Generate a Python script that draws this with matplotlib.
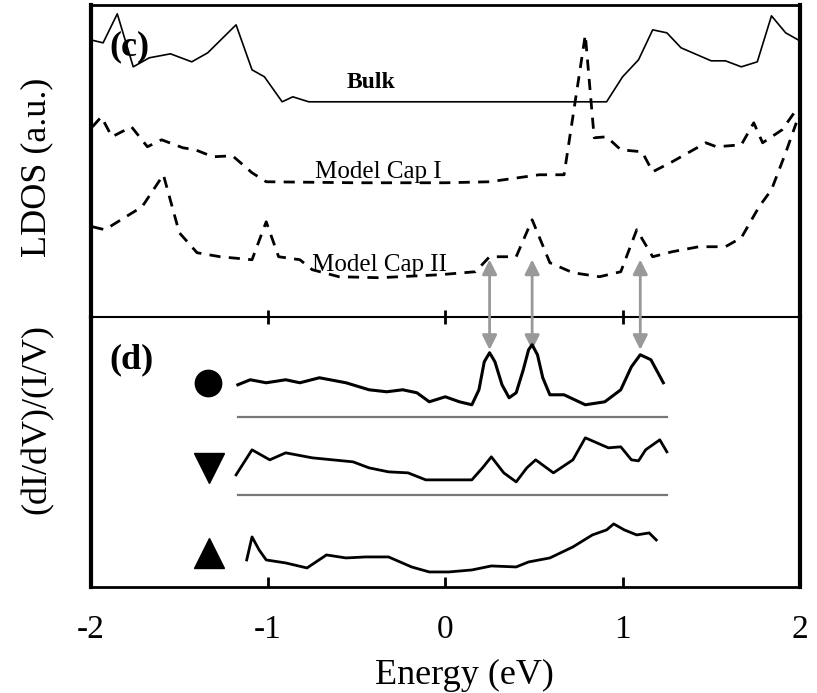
import matplotlib
matplotlib.use('Agg')
import matplotlib.pyplot as plt

plt.rcParams['font.family'] = 'Liberation Serif'

# ---------------- data (c) LDOS, arbitrary units ----------------
bulk_E = [-2.0, -1.93, -1.85, -1.76, -1.67, -1.55, -1.43, -1.34, -1.18, -1.09, -1.02, -0.92, -0.86, -0.77,
          0.91, 1.0, 1.09, 1.17, 1.25, 1.33, 1.50, 1.58, 1.67, 1.76, 1.84, 1.92, 2.0]
bulk_v = [27.7, 27.4, 30.3, 25.0, 25.9, 26.3, 25.5, 26.4, 29.2, 24.7, 24.0, 21.5, 22.0, 21.5,
          21.5, 24.0, 25.7, 28.7, 28.4, 26.9, 25.6, 25.6, 25.0, 25.5, 30.1, 28.4, 27.6]

cap1_E = [-1.99, -1.94, -1.88, -1.77, -1.68, -1.60, -1.48, -1.41, -1.31, -1.20, -1.09, -1.01, -0.5, 0.0,
          0.25, 0.53, 0.67, 0.79, 0.84, 0.91, 0.99, 1.11, 1.17, 1.28, 1.47, 1.53, 1.67, 1.74, 1.79, 1.90, 1.98]
cap1_v = [19.0, 20.0, 18.0, 19.0, 17.0, 17.7, 16.9, 16.7, 16.0, 16.1, 14.4, 13.5, 13.4, 13.4,
          13.5, 14.2, 14.2, 28.2, 17.9, 18.0, 16.7, 16.5, 14.5, 15.5, 17.4, 17.0, 17.2, 19.4, 17.4, 18.7, 20.7]

cap2_E = [-1.99, -1.92, -1.71, -1.59, -1.50, -1.40, -1.27, -1.09, -1.01, -0.94, -0.82, -0.75, -0.60, -0.37,
          -0.03, 0.17, 0.25, 0.40, 0.49, 0.59, 0.72, 0.87, 0.99, 1.08, 1.17, 1.28, 1.43, 1.58, 1.67, 1.77,
          1.84, 1.92, 1.98]
cap2_v = [9.0, 8.7, 11.0, 14.2, 8.4, 6.4, 6.0, 5.7, 9.5, 6.0, 5.7, 4.7, 4.0, 3.9,
          4.2, 4.5, 6.0, 6.0, 9.7, 5.4, 4.4, 4.0, 4.5, 8.7, 6.0, 6.5, 7.0, 7.0, 7.9, 11.0,
          12.7, 16.4, 19.4]

# ---------------- data (d) normalized conductance ----------------
circ_E = [-1.17, -1.10, -1.01, -0.90, -0.82, -0.71, -0.56, -0.43, -0.33, -0.24, -0.16, -0.09, 0.0, 0.08,
          0.15, 0.19, 0.22, 0.25, 0.28, 0.32, 0.36, 0.40, 0.44, 0.47, 0.49, 0.52, 0.55, 0.59, 0.67, 0.79,
          0.90, 0.99, 1.05, 1.10, 1.16, 1.23]
circ_v = [20.2, 20.7, 20.4, 20.7, 20.4, 20.9, 20.4, 19.7, 19.5, 19.7, 19.4, 18.5, 19.0, 18.5,
          18.2, 19.7, 22.5, 23.4, 22.5, 20.2, 18.9, 19.4, 21.7, 23.7, 24.2, 23.2, 20.9, 19.2, 19.2, 18.2,
          18.5, 19.7, 22.0, 23.2, 22.7, 20.4]

down_E = [-1.18, -1.09, -0.99, -0.90, -0.75, -0.52, -0.43, -0.32, -0.21, -0.11, 0.0, 0.15, 0.21, 0.26,
          0.33, 0.40, 0.46, 0.51, 0.61, 0.72, 0.79, 0.92, 0.99, 1.05, 1.09, 1.13, 1.21, 1.25]
down_v = [11.2, 13.7, 12.7, 13.4, 12.9, 12.5, 11.9, 11.5, 11.4, 10.7, 10.7, 10.7, 11.9, 13.0,
          11.4, 10.5, 11.9, 12.7, 11.4, 12.7, 14.9, 13.9, 14.0, 12.7, 12.6, 13.7, 14.7, 13.5]

up_E = [-1.12, -1.09, -1.05, -1.01, -0.90, -0.78, -0.67, -0.56, -0.45, -0.32, -0.19, -0.09, 0.02, 0.15,
        0.26, 0.40, 0.47, 0.59, 0.72, 0.83, 0.91, 0.95, 1.01, 1.08, 1.15, 1.19]
up_v = [2.7, 5.0, 3.7, 2.7, 2.4, 1.9, 3.2, 2.9, 3.0, 3.0, 2.0, 1.5, 1.5, 1.7,
        2.1, 2.0, 2.5, 2.9, 4.0, 5.2, 5.7, 6.3, 5.7, 5.2, 5.4, 4.7]

base_E = [-1.17, 1.25]
base_lev = [17.0, 9.2]

arrow_E = [0.25, 0.49, 1.10]

# ################# PLOTS ############################################
fig = plt.figure(figsize=(8.17, 6.93), dpi=100)

ax1 = fig.add_axes([0.111, 0.543, 0.868, 0.450])
ax2 = fig.add_axes([0.111, 0.153, 0.868, 0.390])
for ax in (ax1, ax2):
    ax.set_facecolor('none')
    ax.set_xlim(-2, 2)
    ax.set_yticks([])

################# (c) #########################################
ax1.set_ylim(0, 31.2)
ax1.plot(bulk_E, bulk_v, color='black', lw=1.2)
ax1.plot(cap1_E, cap1_v, color='black', lw=2, ls=(0, (4, 3)))
ax1.plot(cap2_E, cap2_v, color='black', lw=2, ls=(0, (4, 3)))

ax1.text(-0.42, 23.4, 'Bulk', fontsize=17, fontweight='bold', ha='center', va='center')
ax1.text(-0.38, 14.5, 'Model Cap I', fontsize=18, ha='center', va='center')
ax1.text(-0.37, 5.2, 'Model Cap II', fontsize=18, ha='center', va='center')
ax1.text(-1.78, 27.0, '(c)', fontsize=26, fontweight='bold', ha='center', va='center')

ax1.set_xticks([-1, 0, 1])
ax1.tick_params(axis='x', direction='inout', length=10, width=2, labelbottom=False)
ax1.spines['left'].set_linewidth(3)
ax1.spines['right'].set_linewidth(3)
ax1.spines['top'].set_linewidth(2)
ax1.spines['bottom'].set_linewidth(1.5)

for e in arrow_E:
    ax1.annotate('', xy=(e, -3.6), xytext=(e, 6.0), annotation_clip=False,
                 arrowprops=dict(arrowstyle='<|-|>', color='#999999', lw=2, mutation_scale=22))

################# (d) #########################################
ax2.set_ylim(0, 27)
ax2.plot(circ_E, circ_v, color='black', lw=2.2)
ax2.plot(down_E, down_v, color='black', lw=2.0)
ax2.plot(up_E, up_v, color='black', lw=2.0)
for lev in base_lev:
    ax2.plot(base_E, [lev, lev], color='#777777', lw=1.6)

ax2.plot([-1.34], [20.4], marker='o', color='black', ms=19)
ax2.plot([-1.33], [11.9], marker='v', color='black', ms=21)
ax2.plot([-1.33], [3.4], marker='^', color='black', ms=21)
ax2.text(-1.77, 22.7, '(d)', fontsize=26, fontweight='bold', ha='center', va='center')

ax2.set_xticks([-2, -1, 0, 1, 2])
ax2.set_xticklabels(['-2', '-1', '0', '1', '2'], fontsize=24)
ax2.tick_params(axis='x', direction='in', length=7, width=2, pad=20)
ax2.spines['top'].set_visible(False)
ax2.spines['left'].set_linewidth(3)
ax2.spines['right'].set_linewidth(3)
ax2.spines['bottom'].set_linewidth(2)

# axis titles placed as in the figure
fig.text(464 / 817, 1 - 675 / 693, 'Energy (eV)', fontsize=26, ha='center', va='center')
fig.text(37 / 817, 1 - 167 / 693, 'LDOS (a.u.)', fontsize=26, ha='center', va='center', rotation=90)
fig.text(37 / 817, 1 - 419 / 693, '(dI/dV)/(I/V)', fontsize=26, ha='center', va='center', rotation=90)

fig.savefig('out.png', dpi=100)
